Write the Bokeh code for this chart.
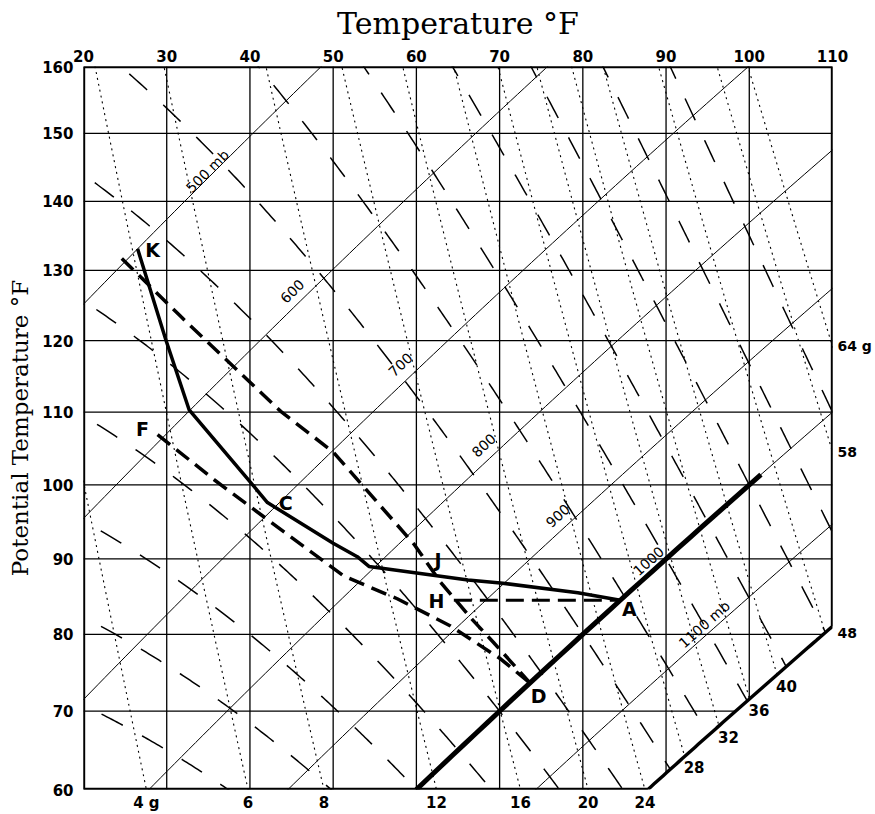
import numpy as np
from bokeh.plotting import figure
from bokeh.models import (ColumnDataSource, FixedTicker, CustomJSTickFormatter,
                          Label, LabelSet, Range1d, LinearAxis, LogAxis)
from bokeh.core.properties import value
from bokeh.embed import file_html
from bokeh.resources import INLINE

# ---------------- data ----------------
temperature_ticks = [20, 30, 40, 50, 60, 70, 80, 90, 100, 110]                      # deg F
potential_temperature_ticks = [60, 70, 80, 90, 100, 110, 120, 130, 140, 150, 160]  # deg F

isobar_levels = [500, 600, 700, 800, 900, 1000, 1100]          # mb
isobar_label_text = ["500 mb", "600", "700", "800", "900", "1000", "1100 mb"]
isobar_label_temp = [34.9, 45.1, 58.1, 68.1, 77.0, 87.9, 94.6]
isobar_label_theta = [144.4, 127.0, 116.6, 105.4, 95.8, 89.7, 81.3]
boundary_level = 1200                                            # mb, cut-off corner

mixing_ratios = [4, 6, 8, 12, 16, 20, 24, 28, 32, 36, 40, 48, 58, 64]   # g/kg
mixing_ratio_text = ["4 g", "6", "8", "12", "16", "20", "24",
                     "28", "32", "36", "40", "48", "58", "64 g"]
wet_bulb_potential_temps = [45, 50, 55, 60, 65, 70, 75, 80, 85, 90, 95, 100, 105, 110]

# sounding / process curves (temperature, potential temperature) in deg F
solid_temp = [26.5, 29.9, 32.7, 40.1, 42.1, 50.0, 52.9, 54.3, 66.2, 70.1, 79.4, 84.5]
solid_theta = [133.1, 120.1, 110.3, 100.3, 97.6, 92.1, 90.3, 89.0, 87.2, 86.8, 85.5, 84.5]
kjd_temp = [24.6, 31.7, 43.7, 50.0, 59.7, 62.9, 66.75, 69.3, 73.7]
kjd_theta = [131.7, 123.4, 110.1, 104.5, 92.0, 86.9, 81.9, 78.9, 73.6]
fd_temp = [28.9, 35.7, 42.1, 46.9, 51.3, 57.7, 64.1, 70.1, 73.7]
fd_theta = [106.9, 100.7, 95.3, 91.3, 87.7, 84.7, 81.1, 76.8, 73.6]
ha_temp = [64.5, 84.5]
ha_theta = [84.5, 84.5]
thick_isobar_level = 1000
thick_isobar_temp = [60.0, 101.4]

point_labels = ["K", "C", "F", "J", "H", "A", "D"]
point_label_temp = [28.3, 44.3, 27.1, 62.6, 62.4, 85.6, 74.7]
point_label_theta = [132.9, 97.6, 107.6, 89.9, 84.4, 83.3, 71.9]

# ---------------- physics helpers ----------------
RANKINE = 459.67
KAPPA = 0.286
EPS = 0.622
RD = 287.04
CP = 1005.7
LV = 2.501e6


def f2k(f):
    return (np.asarray(f, dtype=float) - 32.0) * 5.0 / 9.0 + 273.15


def k2f(k):
    return (np.asarray(k, dtype=float) - 273.15) * 9.0 / 5.0 + 32.0


def theta_f(temp_f, p):
    return k2f(f2k(temp_f) * (1000.0 / np.asarray(p, dtype=float)) ** KAPPA)


def temp_f_from_theta(theta_fv, p):
    return k2f(f2k(theta_fv) * (np.asarray(p, dtype=float) / 1000.0) ** KAPPA)


def es(tk):
    tc = tk - 273.15
    return 6.112 * np.exp(17.67 * tc / (tc + 243.5))


def dTdp(t, p):
    e = es(t)
    rs = EPS * e / (p - e)
    return (RD * t + LV * rs) / (p * (CP + LV * LV * rs * EPS / (RD * t * t)))


def R(a):
    return list(np.asarray(a, dtype=float) + RANKINE)


T_MIN, T_MAX = temperature_ticks[0], temperature_ticks[-1]
TH_MIN, TH_MAX = potential_temperature_ticks[0], potential_temperature_ticks[-1]

# ---------------- figure ----------------
p = figure(width=875, height=814, output_backend="svg", toolbar_location=None,
           x_axis_location="above", y_axis_type="log",
           x_range=Range1d(T_MIN, T_MAX),
           y_range=Range1d(TH_MIN + RANKINE, TH_MAX + RANKINE),
           min_border_left=83, min_border_right=43, min_border_top=66, min_border_bottom=23)
p.outline_line_color = None
p.grid.visible = False
p.background_fill_color = "white"
p.border_fill_color = "white"

FW, FH = 749.0, 725.0
PX_PER_F = FW / (T_MAX - T_MIN)
PX_PER_LN = FH / np.log((TH_MAX + RANKINE) / (TH_MIN + RANKINE))

# boundary 1200 mb curve
t_b0 = float(temp_f_from_theta(TH_MIN, boundary_level))
bt = np.linspace(t_b0, T_MAX, 60)
bth = theta_f(bt, boundary_level)

# isotherms and isentropes (clipped by the 1200 mb corner)
x0, y0, x1, y1 = [], [], [], []
for t in temperature_ticks:
    lo = max(TH_MIN, float(theta_f(t, boundary_level)))
    x0.append(t); x1.append(t); y0.append(lo); y1.append(TH_MAX)
for th in potential_temperature_ticks:
    hi = min(T_MAX, float(temp_f_from_theta(th, boundary_level)))
    x0.append(T_MIN); x1.append(hi); y0.append(th); y1.append(th)
p.segment(x0=x0, y0=R(y0), x1=x1, y1=R(y1), line_color="black", line_width=1.3)

# isobars
iso_xs, iso_ys = [], []
tt = np.linspace(T_MIN - 5, T_MAX + 5, 120)
for lev in isobar_levels:
    iso_xs.append(list(tt))
    iso_ys.append(R(theta_f(tt, lev)))
p.multi_line(xs=iso_xs, ys=iso_ys, line_color="black", line_width=1.0)

# saturation mixing ratio lines (dotted)
mr_xs, mr_ys, mr_paths = [], [], []
pp = np.linspace(250, boundary_level, 400)
for w in mixing_ratios:
    e = w * pp / (622.0 + w)
    le = np.log(e / 6.112)
    tc = 243.5 * le / (17.67 - le)
    tfv = k2f(tc + 273.15)
    thv = theta_f(tfv, pp)
    mr_xs.append(list(tfv)); mr_ys.append(R(thv))
    mr_paths.append((tfv, thv))
p.multi_line(xs=mr_xs, ys=mr_ys, line_color="black", line_width=1.1, line_dash="2 4")


# moist adiabats (long dashes)
def integrate(t0, parr):
    out = [t0]
    t = t0
    for i in range(len(parr) - 1):
        p0 = parr[i]; h = parr[i + 1] - p0
        k1 = dTdp(t, p0)
        k2 = dTdp(t + h * k1 / 2, p0 + h / 2)
        k3 = dTdp(t + h * k2 / 2, p0 + h / 2)
        k4 = dTdp(t + h * k3, p0 + h)
        t = t + h * (k1 + 2 * k2 + 2 * k3 + k4) / 6
        out.append(t)
    return np.array(out)


ma_xs, ma_ys = [], []
for tw in wet_bulb_potential_temps:
    t0 = float(f2k(tw))
    pdn = np.linspace(1000, boundary_level, 41)
    pup = np.linspace(1000, 250, 301)
    tdn = integrate(t0, pdn)
    tup = integrate(t0, pup)
    pall = np.concatenate([pup[::-1], pdn[1:]])
    tall = np.concatenate([tup[::-1], tdn[1:]])
    tfv = k2f(tall)
    thv = theta_f(tfv, pall)
    m = (tfv > T_MIN - 8) & (thv < TH_MAX + 8)
    ma_xs.append(list(tfv[m])); ma_ys.append(R(thv[m]))
p.multi_line(xs=ma_xs, ys=ma_ys, line_color="black", line_width=1.5, line_dash="24 22")

# frame boundary with cut corner
bx = [T_MIN, T_MIN] + list(bt) + [T_MAX, T_MIN]
by = [TH_MAX, TH_MIN] + list(bth) + [TH_MAX, TH_MAX]
p.line(bx, R(by), line_color="black", line_width=3.4)

# thick 1000 mb segment
tk = np.linspace(thick_isobar_temp[0], thick_isobar_temp[1], 30)
p.line(list(tk), R(theta_f(tk, thick_isobar_level)), line_color="black", line_width=5)

# process curves
p.line(solid_temp, R(solid_theta), line_color="black", line_width=3.5, line_join="round")
p.line(kjd_temp, R(kjd_theta), line_color="black", line_width=3.5, line_dash="16 8")
p.line(fd_temp, R(fd_theta), line_color="black", line_width=3.5, line_dash="16 8")
p.line(ha_temp, R(ha_theta), line_color="black", line_width=3.0, line_dash="18 8")

# point labels
src = ColumnDataSource(dict(x=point_label_temp, y=R(point_label_theta), t=point_labels))
p.add_layout(LabelSet(x="x", y="y", text="t", source=src, text_font=value("DejaVu Sans"),
                      text_font_size="19px", text_font_style="bold", text_align="center",
                      text_baseline="middle", text_color="black"))

# isobar labels
for txt, lt, lth in zip(isobar_label_text, isobar_label_temp, isobar_label_theta):
    ang = float(np.arctan((PX_PER_LN / (lt + RANKINE)) / PX_PER_F))
    p.add_layout(Label(x=lt, y=lth + RANKINE, text=txt, angle=ang, text_font="DejaVu Sans",
                       text_font_size="14px", text_align="center", text_baseline="middle",
                       text_color="black"))

# mixing-ratio labels: where each line leaves the chart
bottom_ticks, bottom_text = [], []
right_ticks, right_text = [], []
for w, txt, (tfv, thv) in zip(mixing_ratios, mixing_ratio_text, mr_paths):
    if thv[-1] <= TH_MIN:                       # leaves through the bottom edge
        bottom_ticks.append(float(np.interp(TH_MIN, thv[::-1], tfv[::-1])))
        bottom_text.append(txt)
    elif tfv[-1] <= T_MAX - 1.5:                # leaves through the 1200 mb edge
        p.add_layout(Label(x=float(tfv[-1]), y=float(thv[-1]) + RANKINE, text=txt,
                           text_font="DejaVu Sans", text_font_size="15px",
                           text_font_style="bold", text_color="black",
                           text_align="left", text_baseline="top", x_offset=-1, y_offset=-5))
    elif tfv[-1] <= T_MAX:                      # ends at the corner
        right_ticks.append(float(thv[-1]) + RANKINE)
        right_text.append(txt)
    else:                                       # leaves through the right edge
        right_ticks.append(float(np.interp(T_MAX, tfv, thv)) + RANKINE)
        right_text.append(txt)

pick_code = """
let b = 0;
for (let i = 0; i < tk_vals.length; i++) {
  if (Math.abs(tk_vals[i] - tick) < Math.abs(tk_vals[b] - tick)) b = i;
}
return tk_labels[b];
"""
bax = LinearAxis(ticker=FixedTicker(ticks=bottom_ticks),
                 formatter=CustomJSTickFormatter(args=dict(tk_vals=bottom_ticks, tk_labels=bottom_text),
                                                 code=pick_code))
rax = LogAxis(ticker=FixedTicker(ticks=right_ticks),
              formatter=CustomJSTickFormatter(args=dict(tk_vals=right_ticks, tk_labels=right_text),
                                              code=pick_code))
p.add_layout(bax, "below")
p.add_layout(rax, "right")
for ax in (bax, rax):
    ax.axis_line_color = None
    ax.major_tick_line_color = None
    ax.minor_tick_line_color = None
    ax.major_tick_out = 0
    ax.major_tick_in = 0
    ax.minor_tick_out = 0
    ax.major_label_text_font = "DejaVu Sans"
    ax.major_label_text_font_size = "15px"
    ax.major_label_text_font_style = "bold"
    ax.major_label_text_color = "black"
bax.major_label_standoff = 4
rax.major_label_standoff = 5
rax.major_label_text_font_size = "14px"

# main axes
p.xaxis[0].ticker = FixedTicker(ticks=temperature_ticks)
p.yaxis[0].ticker = FixedTicker(ticks=R(potential_temperature_ticks))
p.yaxis[0].formatter = CustomJSTickFormatter(code="return (tick - 459.67).toFixed(0);")
for ax in (p.xaxis[0], p.yaxis[0]):
    ax.axis_line_color = None
    ax.major_tick_line_color = None
    ax.minor_tick_line_color = None
    ax.major_tick_out = 0
    ax.major_tick_in = 0
    ax.minor_tick_out = 0
    ax.major_label_text_font = "DejaVu Sans"
    ax.major_label_text_font_style = "bold"
    ax.major_label_text_font_size = "15px"
    ax.axis_label_text_font = "DejaVu Serif"
    ax.axis_label_text_font_style = "normal"
    ax.axis_label_text_color = "black"
    ax.major_label_text_color = "black"
p.xaxis[0].axis_label = "Temperature °F"
p.yaxis[0].axis_label = "Potential Temperature °F"
p.xaxis[0].axis_label_text_font_size = "30px"
p.yaxis[0].axis_label_text_font_size = "23px"
p.xaxis[0].major_label_standoff = 5
p.xaxis[0].axis_label_standoff = 6
p.yaxis[0].major_label_standoff = 10
p.yaxis[0].axis_label_standoff = 6

open("out.html", "w").write(file_html(p, INLINE))
